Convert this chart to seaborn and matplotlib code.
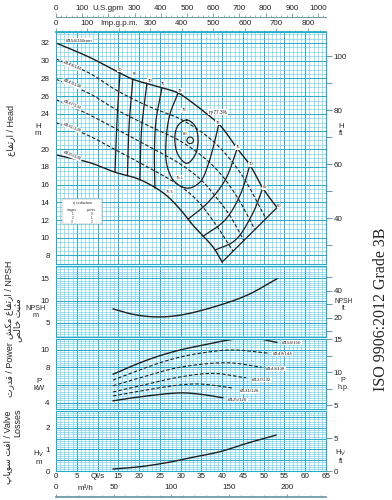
import numpy as np
import pandas as pd
import matplotlib
matplotlib.use("Agg")
import matplotlib.pyplot as plt
import matplotlib.transforms as mtransforms
from matplotlib.ticker import MultipleLocator
from matplotlib.patches import Rectangle
import seaborn as sns

# ---------------- data ----------------
# Head curves, Q in l/s, H in m
q_d154 = [0, 8, 15.4, 18.5, 25.8, 29.4, 33.0, 36.0, 39.5, 43.6, 46.7, 49.8, 53.2]
h_d154 = [32.0, 30.4, 28.6, 27.9, 26.9, 26.35, 25.2, 24.1, 22.7, 20.1, 18.2, 15.6, 13.4]
q_d149 = [0, 8, 14.4, 22, 30, 36, 40, 45, 50.6]
h_d149 = [30.2, 28.6, 26.7, 24.9, 23.4, 21.6, 19.9, 16.9, 12.1]
q_d143 = [0, 8, 14.4, 22, 30, 36, 40, 44, 47.9]
h_d143 = [27.9, 26.3, 24.5, 22.7, 20.9, 18.9, 17.0, 14.3, 10.9]
q_d137 = [0, 8, 14.4, 22, 30, 35, 38, 42, 45.3]
h_d137 = [25.6, 23.9, 22.3, 20.4, 18.3, 16.5, 14.9, 12.4, 9.6]
q_d131 = [0, 8, 14.4, 22, 30, 34, 38, 42.6]
h_d131 = [23.0, 21.5, 19.9, 18.0, 15.8, 14.2, 11.8, 8.5]
q_d125 = [0, 8, 14.2, 20, 26, 29.9, 33, 37.8, 40]
h_d125 = [19.35, 18.5, 17.4, 16.6, 15.0, 13.2, 11.4, 8.95, 7.25]

# Iso-efficiency lines
q_l60, h_l60 = [15.4, 14.7, 14.2], [28.6, 23.3, 17.4]
q_l65, h_l65 = [18.5, 17.6, 17.2], [27.9, 22.7, 17.0]
q_l70, h_l70 = [21.9, 20.6, 20.2], [27.5, 22.2, 16.5]
q_l75, h_l75 = [25.5, 24.1, 23.7, 23.8], [26.9, 23.3, 19.9, 15.6]
q_e78 = [29.4, 27.4, 26.5, 26.7, 28.6, 31.8, 34.7, 36.6, 38.0, 39.2]
h_e78 = [26.35, 23.9, 21.0, 18.2, 16.3, 15.6, 16.3, 18.2, 20.5, 22.85]
q_e79 = [31.5, 33.5, 34.2, 33.5, 31.5, 29.4, 28.6, 29.4]
h_e79 = [23.3, 22.6, 21.0, 19.35, 18.4, 19.35, 21.3, 22.7]
q_e80 = [33.1, 32.85, 32.3, 31.75, 31.5, 31.75, 32.3, 32.85]
h_e80 = [21.0, 21.27, 21.37, 21.27, 21.0, 20.73, 20.63, 20.73]
q_r75, h_r75 = [43.6, 40.7, 36.4, 31.8], [20.0, 16.5, 13.9, 12.1]
q_r70, h_r70 = [46.7, 44.3, 40.7, 35.4], [18.2, 14.8, 12.0, 10.15]
q_r65, h_r65 = [49.8, 47.2, 43.1, 38.3], [15.6, 12.6, 9.7, 8.6]
q_r60, h_r60 = [53.2, 40.0], [13.4, 7.25]

diam_labels = ["Ø149/144", "Ø143/138", "Ø137/132", "Ø131/126", "Ø125/120"]
diam_label_h = [29.45, 27.35, 25.05, 22.45, 19.25]

eff_labels = ["60", "65", "70", "75", "78", "79", "80", "78", "75", "70", "65", "60", "76.1", "76.5"]
eff_q = [15.4, 19.0, 22.6, 25.8, 29.9, 30.8, 31.1, 39.0, 43.8, 46.9, 50.3, 53.8, 29.9, 27.4]
eff_h = [28.95, 28.5, 27.75, 27.4, 26.6, 24.4, 21.75, 23.0, 20.2, 18.3, 15.7, 13.6, 16.8, 15.2]

# NPSH, m
q_npsh = [13.7, 19.0, 24.3, 29.9, 37.8, 46.0, 53.2]
v_npsh = [8.1, 6.8, 6.3, 6.7, 8.5, 11.2, 14.9]

# Power, kW
q_p154, v_p154 = [13.7, 20.2, 25.0, 29.9, 36.4, 42.6, 47.4, 53.2], [7.2, 8.5, 9.3, 9.95, 10.6, 11.15, 11.3, 10.8]
q_p149, v_p149 = [13.7, 20.2, 25.0, 29.9, 36.4, 42.6, 51.0], [6.55, 7.7, 8.5, 9.15, 9.7, 9.95, 9.6]
q_p143, v_p143 = [13.7, 20.2, 29.9, 41.4, 49.5], [5.9, 6.8, 8.0, 8.5, 8.0]
q_p137, v_p137 = [13.7, 20.2, 29.9, 37.8, 45.8], [5.2, 5.9, 6.9, 7.3, 6.8]
q_p131, v_p131 = [13.7, 20.2, 29.9, 34.7, 42.6], [4.75, 5.3, 6.0, 6.1, 5.65]
q_p125, v_p125 = [13.7, 20.2, 29.9, 34.7, 40.2], [4.2, 4.65, 5.1, 4.95, 4.55]
power_labels = ["Ø154/150", "Ø149/144", "Ø143/138", "Ø137/132", "Ø131/126", "Ø125/120"]
power_label_q = [54.4, 52.2, 50.6, 47.2, 44.3, 41.4]
power_label_v = [10.75, 9.5, 7.85, 6.55, 5.3, 4.3]

# Valve losses, m
q_hv = [13.7, 20.2, 26.7, 33.0, 39.5, 46.0, 53.0]
v_hv = [0.09, 0.2, 0.39, 0.64, 0.9, 1.29, 1.67]

# axis tick labels
q_ticks = list(range(0, 66, 5))
q_ticklabels = ["0", "5", "Ql/s"] + [str(v) for v in range(15, 66, 5)]
us_ticks = list(range(0, 1001, 100))
us_ticklabels = ["0", "100", "U.S.gpm"] + [str(v) for v in range(300, 1001, 100)]
imp_ticks = list(range(0, 801, 100))
imp_ticklabels = ["0", "100", "Imp.g.p.m."] + [str(v) for v in range(300, 801, 100)]
m3_ticks = [0, 50, 100, 150, 200]
head_ticks = list(range(8, 33, 2))
head_ticklabels = ["" if v == 22 else str(v) for v in head_ticks]
npsh_ticks = [5, 10, 15]
power_ticks = [4, 6, 8, 10]
power_ticklabels = ["4", "", "8", "10"]
hv_ticks = [0, 0.5, 1, 1.5, 2, 2.5]
hv_ticklabels = ["0", "", "1", "", "2", ""]

# ---------------- style ----------------
sns.set_theme(style="white")
plt.rcParams['font.family'] = ['Liberation Sans', 'DejaVu Sans']
plt.rcParams['axes.unicode_minus'] = False

GRID_MIN = '#5ecae3'
GRID_MAJ = '#28aacb'
INK = '#1e1e1e'
AXC = '#6a98a6'
W, H = 392.0, 500.0


def spline(q, v, sx, sy, closed=False, n=16):
    """centripetal Catmull-Rom through the read points (computed in pixel-like units)"""
    pts = np.column_stack([np.asarray(q, float) * sx, np.asarray(v, float) * sy])
    if len(pts) == 2:
        return pts[:, 0] / sx, pts[:, 1] / sy
    if closed:
        P = np.vstack([pts[-1], pts, pts[0], pts[1]])
    else:
        P = np.vstack([2 * pts[0] - pts[1], pts, 2 * pts[-1] - pts[-2]])
    out = []
    for i in range(1, len(P) - 2):
        p0, p1, p2, p3 = P[i - 1], P[i], P[i + 1], P[i + 2]
        t0 = 0.0
        t1 = t0 + np.linalg.norm(p1 - p0) ** 0.5 + 1e-9
        t2 = t1 + np.linalg.norm(p2 - p1) ** 0.5 + 1e-9
        t3 = t2 + np.linalg.norm(p3 - p2) ** 0.5 + 1e-9
        t = np.linspace(t1, t2, n, endpoint=False)[:, None]
        A1 = (t1 - t) / (t1 - t0) * p0 + (t - t0) / (t1 - t0) * p1
        A2 = (t2 - t) / (t2 - t1) * p1 + (t - t1) / (t2 - t1) * p2
        A3 = (t3 - t) / (t3 - t2) * p2 + (t - t2) / (t3 - t2) * p3
        B1 = (t2 - t) / (t2 - t0) * A1 + (t - t0) / (t2 - t0) * A2
        B2 = (t3 - t) / (t3 - t1) * A2 + (t - t1) / (t3 - t1) * A3
        C = (t2 - t) / (t2 - t1) * B1 + (t - t1) / (t2 - t1) * B2
        out.append(C)
    out.append(P[-2][None, :])
    arr = np.vstack(out)
    return arr[:, 0] / sx, arr[:, 1] / sy


def draw(ax, q, v, sy, closed=False, dashed=False, lw=0.9):
    xs, ys = spline(q, v, 4.154, sy, closed=closed)
    df = pd.DataFrame({'Q': xs, 'V': ys})
    kw = {'ls': (0, (3.2, 1.8))} if dashed else {}
    sns.lineplot(data=df, x='Q', y='V', ax=ax, sort=False, estimator=None,
                 color=INK, lw=lw, **kw)


def base(ax, ylim, ymin):
    ax.set_xlim(0, 65)
    ax.set_ylim(*ylim)
    ax.set_xlabel('')
    ax.set_ylabel('')
    ax.xaxis.set_major_locator(MultipleLocator(5))
    ax.xaxis.set_minor_locator(MultipleLocator(1))
    ax.yaxis.set_minor_locator(MultipleLocator(ymin))
    ax.grid(True, which='minor', color=GRID_MIN, lw=0.4)
    ax.grid(True, which='major', color=GRID_MAJ, lw=0.7)
    ax.set_axisbelow(True)
    ax.tick_params(which='both', length=0, labelsize=5.8, pad=4.5, labelcolor='#222')
    ax.tick_params(axis='x', labelbottom=False)
    for s in ax.spines.values():
        s.set_color(GRID_MAJ)
        s.set_linewidth(0.8)
    ax.set_facecolor('white')


def right_axis(ax, f, finv, maj, mnr=None):
    sec = ax.secondary_yaxis('right', functions=(f, finv))
    sec.yaxis.set_major_locator(MultipleLocator(maj))
    if mnr:
        sec.yaxis.set_minor_locator(MultipleLocator(mnr))
    sec.tick_params(which='both', length=4, width=0.7, color=AXC, labelsize=5.8, pad=1.5,
                    labelcolor='#222', direction='out')
    sec.spines['right'].set_color(AXC)
    sec.spines['right'].set_linewidth(0.8)
    return sec


def rect(top_px, bot_px):
    return [56 / W, 1 - bot_px / H, 270 / W, (bot_px - top_px) / H]


def ftext(x, y, s, **kw):
    fig.text(x / W, 1 - y / H, s, ha='center', va='center', **kw)


fig = plt.figure(figsize=(3.92, 5.0), dpi=100)
fig.patch.set_facecolor('white')
ax_h = fig.add_axes(rect(32, 264))
ax_n = fig.add_axes(rect(266, 337))
ax_p = fig.add_axes(rect(339, 409))
ax_v = fig.add_axes(rect(411, 471))

SY_H, SY_N, SY_P, SY_V = 8.85, 4.43, 8.85, 21.5

# ---------------- head panel ----------------
draw(ax_h, q_d154, h_d154, SY_H, lw=1.0)
for q, h in [(q_d149, h_d149), (q_d143, h_d143), (q_d137, h_d137), (q_d131, h_d131)]:
    draw(ax_h, q, h, SY_H, dashed=True, lw=0.8)
draw(ax_h, q_d125, h_d125, SY_H, lw=1.0)
for q, h in [(q_l60, h_l60), (q_l65, h_l65), (q_l70, h_l70), (q_l75, h_l75),
             (q_e78, h_e78), (q_r75, h_r75), (q_r70, h_r70), (q_r65, h_r65), (q_r60, h_r60)]:
    draw(ax_h, q, h, SY_H, lw=0.9)
draw(ax_h, q_e79, h_e79, SY_H, closed=True, lw=0.9)
draw(ax_h, q_e80, h_e80, SY_H, closed=True, lw=0.8)

base(ax_h, (7.03, 33.24), 0.5)
ax_h.set_yticks(head_ticks)
ax_h.set_yticklabels(head_ticklabels)

ax_h.text(5.5, 32.25, "Ø154/150mm", fontsize=3.2, ha='center', va='center', color=INK,
          bbox=dict(facecolor='white', edgecolor='none', pad=0.4))
for lab, hy in zip(diam_labels, diam_label_h):
    ax_h.text(3.9, hy, lab, fontsize=3.2, ha='center', va='center', rotation=-22, color=INK,
              bbox=dict(facecolor='white', edgecolor='none', pad=0.4))
for lab, q, h in zip(eff_labels, eff_q, eff_h):
    ax_h.text(q, h, lab, fontsize=3.0, ha='center', va='center', color=INK,
              bbox=dict(facecolor='white', edgecolor='none', pad=0.2))
ax_h.text(39.0, 24.2, "η=77.3%", fontsize=3.4, ha='center', va='center', color=INK,
          bbox=dict(facecolor='white', edgecolor='none', pad=0.4))

# efficiency reduction table
ax_h.add_patch(Rectangle((1.4, 11.5), 9.7, 2.9, facecolor='white', edgecolor='#8a8a8a', lw=0.3, zorder=3))
ax_h.text(6.25, 13.95, "η reduction", fontsize=2.8, ha='center', va='center', zorder=4)
ax_h.text(3.9, 13.15, "stages", fontsize=2.4, ha='center', va='center', zorder=4)
ax_h.text(8.6, 13.15, "points", fontsize=2.4, ha='center', va='center', zorder=4)
for i, (a, b) in enumerate([("1", "0"), ("2", "1"), ("3", "2")]):
    ax_h.text(3.9, 12.65 - 0.45 * i, a, fontsize=2.2, ha='center', va='center', zorder=4)
    ax_h.text(8.6, 12.65 - 0.45 * i, b, fontsize=2.2, ha='center', va='center', zorder=4)

right_axis(ax_h, lambda m: m / 0.3048, lambda f: f * 0.3048, 20, 10)

imp = ax_h.secondary_xaxis('top', functions=(lambda q: q * 13.198, lambda g: g / 13.198))
imp.set_xticks(imp_ticks)
imp.set_xticklabels(imp_ticklabels)
imp.xaxis.set_minor_locator(MultipleLocator(20))
imp.tick_params(which='major', length=3, width=0.6, color=AXC, labelsize=5.8, pad=0.8, labelcolor='#222')
imp.tick_params(which='minor', length=1.6, width=0.5, color=AXC)
imp.spines['top'].set_color(GRID_MAJ)

us = ax_h.secondary_xaxis(1 + 15 / 232, functions=(lambda q: q * 15.850, lambda g: g / 15.850))
us.set_xticks(us_ticks)
us.set_xticklabels(us_ticklabels)
us.xaxis.set_minor_locator(MultipleLocator(20))
us.tick_params(which='major', length=3, width=0.6, color=AXC, labelsize=5.8, pad=0.6, labelcolor='#222')
us.tick_params(which='minor', length=1.6, width=0.5, color=AXC)
us.spines['top'].set_color(AXC)
us.spines['top'].set_linewidth(0.7)

# ---------------- NPSH panel ----------------
draw(ax_n, q_npsh, v_npsh, SY_N, lw=1.0)
base(ax_n, (1.76, 17.79), 0.5)
ax_n.set_yticks(npsh_ticks)
right_axis(ax_n, lambda m: m / 0.3048, lambda f: f * 0.3048, 20, 10)

# ---------------- power panel ----------------
draw(ax_p, q_p154, v_p154, SY_P, lw=1.0)
for q, v in [(q_p149, v_p149), (q_p143, v_p143), (q_p137, v_p137), (q_p131, v_p131)]:
    draw(ax_p, q, v, SY_P, dashed=True, lw=0.8)
draw(ax_p, q_p125, v_p125, SY_P, lw=1.0)
base(ax_p, (3.28, 11.19), 0.25)
ax_p.set_yticks(power_ticks)
ax_p.set_yticklabels(power_ticklabels)
for lab, q, v in zip(power_labels, power_label_q, power_label_v):
    ax_p.text(q, v, lab, fontsize=3.2, ha='left', va='center', color=INK,
              bbox=dict(facecolor='white', edgecolor='none', pad=0.3))
right_axis(ax_p, lambda k: k / 0.7457, lambda hp: hp * 0.7457, 5, 2.5)

# ---------------- valve losses panel ----------------
draw(ax_v, q_hv, v_hv, SY_V, lw=1.0)
base(ax_v, (0, 2.79), 0.1)
ax_v.set_yticks(hv_ticks)
ax_v.set_yticklabels(hv_ticklabels)
ax_v.set_xticks(q_ticks)
ax_v.set_xticklabels(q_ticklabels)
ax_v.tick_params(axis='x', labelbottom=True, pad=1.5)
right_axis(ax_v, lambda m: m / 0.3048, lambda f: f * 0.3048, 5)

m3 = ax_v.secondary_xaxis(-26 / 60, functions=(lambda q: q * 3.6, lambda m: m / 3.6))
m3.set_alignment('top')
m3.set_xticks(m3_ticks)
m3.xaxis.set_minor_locator(MultipleLocator(10))
m3.tick_params(which='major', length=2.5, width=0.6, color=AXC, labelsize=5.8, pad=1.5, labelcolor='#222')
m3.tick_params(which='minor', length=1.8, width=0.5, color=AXC)
m3.spines['top'].set_color(AXC)
trans = mtransforms.blended_transform_factory(ax_v.transData, ax_v.transAxes)
ax_v.text(7.0, -0.30, "m³/h", transform=trans, fontsize=5.8, ha='center', va='center', color='#222')

# ---------------- side texts ----------------
ftext(38, 130, "H\nm", fontsize=5.6, linespacing=0.95)
ftext(36, 312, "NPSH\nm", fontsize=5.2, linespacing=0.9)
ftext(39, 385, "P\nkW", fontsize=5.6, linespacing=0.95)
ftext(39, 457, "H$_V$\nm", fontsize=5.6, linespacing=0.95)
ftext(341, 130, "H\nft", fontsize=5.6, linespacing=0.95)
ftext(344, 305, "NPSH\nft", fontsize=4.8, linespacing=0.9)
ftext(343, 384, "P\nh.p.", fontsize=5.0, linespacing=0.9)
ftext(341, 456, "H$_V$\nft", fontsize=5.6, linespacing=0.95)

# Persian / English axis titles (visual-order presentation forms)
head_fa = "\uFEC9\uFE8E\uFED4\uFE97\uFEAD\uFE8D"
npsh_fa = "\uFEB6\uFEDC\uFEE3 " + head_fa
npsh_fa2 = "\uFEBA\uFEDF\uFE8E\uFEA7 \uFE96\uFE92\uFE9C\uFEE3"
power_fa = "\uFE95\uFEAD\uFEAA\uFED7"
valve_fa = "\uFB56\uFE8E\uFB58\uFEEE\uFEB3 \uFE96\uFED3\uFE8D"
ftext(11, 130, head_fa + " / Head", rotation=90, fontsize=6.5)
ftext(9, 300, npsh_fa + " / NPSH", rotation=90, fontsize=6.5)
ftext(18, 320, npsh_fa2, rotation=90, fontsize=6.5)
ftext(10, 370, power_fa + " / Power", rotation=90, fontsize=6.5)
ftext(8, 447, valve_fa + " / Valve", rotation=90, fontsize=6.5)
ftext(18, 423, "Losses", rotation=90, fontsize=6.5)
ftext(381, 309, "ISO 9906:2012 Grade 3B", rotation=90, fontsize=11.5,
      family=['Liberation Serif', 'DejaVu Serif'])

fig.savefig("out.png", dpi=100, facecolor='white')
